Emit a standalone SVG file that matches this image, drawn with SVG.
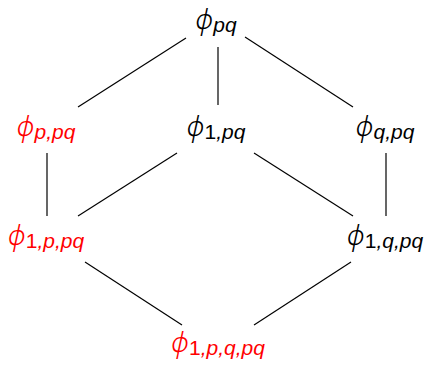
<svg xmlns="http://www.w3.org/2000/svg" width="427" height="365" viewBox="0 0 427 365">
<style>
.n{font-family:"Liberation Sans",Arial,sans-serif;font-size:21px;font-style:italic;text-anchor:middle}
.phi{font-family:"Noto Sans","DejaVu Serif",sans-serif;font-size:28px;font-style:italic;font-weight:300}
.up{font-style:normal}
.red{fill:#ff0000}
.blk{fill:#000}
.e line{stroke:#000;stroke-width:1.2}
</style>
<rect width="427" height="365" fill="#fff"/>
<g class="e" id="connectors">
<line x1="186" y1="38" x2="78" y2="107"/>
<line x1="218" y1="47" x2="218" y2="105"/>
<line x1="245" y1="37" x2="353" y2="107"/>
<line x1="47" y1="153" x2="47" y2="216"/>
<line x1="177" y1="153" x2="78" y2="216"/>
<line x1="254" y1="153" x2="353" y2="216"/>
<line x1="386" y1="153" x2="386" y2="216"/>
<line x1="85" y1="262" x2="182" y2="325"/>
<line x1="351" y1="262" x2="254" y2="325"/>
</g>
<g id="n_pq"><text class="n blk" x="216" y="29"><tspan class="phi">ϕ</tspan><tspan dy="3">pq</tspan></text></g>
<g id="n_p_pq"><text class="n red" x="46" y="136"><tspan class="phi">ϕ</tspan><tspan dy="3">p,pq</tspan></text></g>
<g id="n_1_pq"><text class="n blk" x="216" y="136"><tspan class="phi">ϕ</tspan><tspan dy="3"><tspan class="up">1</tspan>,pq</tspan></text></g>
<g id="n_q_pq"><text class="n blk" x="385" y="136"><tspan class="phi">ϕ</tspan><tspan dy="3">q,pq</tspan></text></g>
<g id="n_1_p_pq"><text class="n red" x="46" y="245"><tspan class="phi">ϕ</tspan><tspan dy="3"><tspan class="up">1</tspan>,p,pq</tspan></text></g>
<g id="n_1_q_pq"><text class="n blk" x="385" y="245"><tspan class="phi">ϕ</tspan><tspan dy="3"><tspan class="up">1</tspan>,q,pq</tspan></text></g>
<g id="n_1_p_q_pq"><text class="n red" x="218" y="352"><tspan class="phi">ϕ</tspan><tspan dy="3"><tspan class="up">1</tspan>,p,q,pq</tspan></text></g>
</svg>
